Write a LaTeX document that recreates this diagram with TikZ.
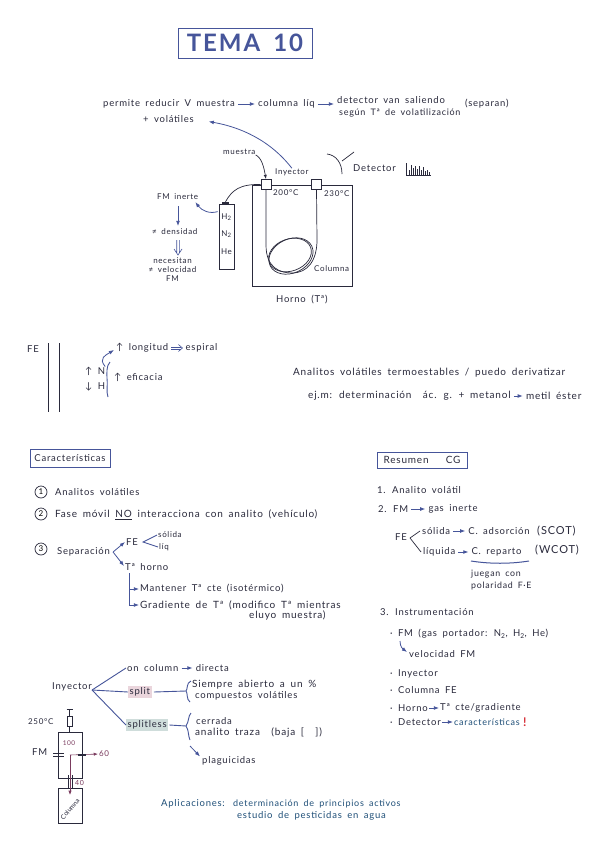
\documentclass[tikz,border=0pt]{standalone}
\usepackage{fontspec}
\setmainfont[LetterSpace=8,WordSpace=1.7]{Lato}
\newfontfamily\plainlato{Lato}
\usepackage{xcolor}
\usetikzlibrary{arrows.meta,positioning,calc,decorations.pathreplacing}
\definecolor{inkblue}{HTML}{46559A}
\definecolor{inkdark}{HTML}{2A2A3C}
\definecolor{inkteal}{HTML}{1F4F78}
\definecolor{inkpink}{HTML}{7A3B5E}
\definecolor{marksplit}{HTML}{EAD5DC}
\definecolor{markless}{HTML}{CFDDDB}
\definecolor{alertred}{HTML}{D8343C}
\tikzset{
  word/.style={anchor=west, inner sep=0pt, text=inkdark, font=\fontsize{9.5}{10}\selectfont},
  big/.style={font=\fontsize{10}{11}\selectfont},
  small/.style={font=\fontsize{8}{9}\selectfont},
  labelbox/.style={draw=inkblue, line width=1pt, inner sep=0pt, text=inkdark, minimum height=16pt, font=\fontsize{9.5}{10}\selectfont},
  pen/.style={inkdark, line width=0.7pt},
  arr/.style={-{Latex[length=1.8mm]}, inkblue, line width=0.8pt},
  link/.style={arr, shorten <=3pt, shorten >=3pt},
  twin/.style={inkblue, line width=0.6pt},
  fork/.style={inkblue, line width=0.9pt},
}
\begin{document}
\begin{tikzpicture}[x=1pt, y=-1pt, node distance=4pt]
    \useasboundingbox (0,0) rectangle (600,848);
    \fill[white] (0,0) rectangle (600,848);
    % titulo
    \node[draw=inkblue, line width=0.9pt, minimum width=134pt, minimum height=30pt, inner sep=0pt, text=inkblue, font=\fontsize{24}{25}\bfseries\selectfont] (title) at (245,43) {TEMA 10};

    % fila superior
    \node[word] (perm) at (103,104) {permite reducir V muestra};
    \node[word, right=23pt of perm] (collig) {columna líq};
    \node[word, anchor=west] (det1) at (337,100) {detector van saliendo};
    \node[word, anchor=west, font=\fontsize{9}{10}\selectfont] (det2) at (339,113) {según Tª de volatilización};
    \node[word] (sep) at (465,104) {(separan)};
    \node[word] (vol) at (143,119) {+ volátiles};
    \draw[link] (perm) -- (collig);
    \draw[link] (collig) -- (collig -| det1.west);

    % horno
    \node[draw=inkdark, line width=0.8pt, minimum width=100pt, minimum height=101pt, inner sep=0pt] (oven) at (302,235.5) {};
    \node[draw=inkdark, line width=0.7pt, fill=white, minimum size=10pt, inner sep=0pt] (injbox) at (266,184.5) {};
    \node[draw=inkdark, line width=0.7pt, fill=white, minimum size=10pt, inner sep=0pt] (detbox) at (316.5,184) {};
    \node[word, small] (inj) at (275,172) {Inyector};
    \node[word, small] (mues) at (223,152) {muestra};
    \node[word, small] (t200) at (273,193) {200°C};
    \node[word, small] (t230) at (324,194) {230°C};
    \node[word, small] (colu) at (314,269) {Columna};
    \node[word] (horno) at (276,300) {Horno (Tª)};
    \node[word] (dett) at (353,168) {Detector};
    \draw[pen, -{Latex[length=1.5mm]}] (mues.south east) .. controls (262,158) and (264,168) .. (injbox.north);
    \draw[arr, shorten >=15pt] (inj.north) .. controls (270,140) and (240,127) .. (vol.east);
    % columna enrollada
    \draw[pen] (injbox.south) -- (266,245) .. controls (266,268) and (280,273) .. (292,273) .. controls (308,273) and (317,260) .. (317,240) -- (detbox.south);
    \draw[pen, rotate around={20:(290,255)}] (290,255) ellipse (22pt and 16pt);
    \draw[pen, rotate around={25:(291,256)}] (291,256) ellipse (23pt and 17pt);
    % detector y cromatograma
    \coordinate (arcA) at (327,154);
    \coordinate (arcB) at (342,174);
    \coordinate (arcC) at (354,152);
    \draw[pen] (arcA) .. controls (336,155) and (342,163) .. (arcB);
    \draw[pen] (342,161) -- (arcC);
    \coordinate (chrO) at (406,175);
    \draw[pen] (406,163) -- (chrO) -- (431,175);
    \draw[pen, line width=0.5pt] (409,175) -- (409,170) (411,175) -- (411,165) (413,175) -- (413,168) (415,175) -- (415,166) (417,175) -- (417,169) (419,175) -- (419,166) (421,175) -- (421,170) (423,175) -- (423,167) (425,175) -- (425,171) (427,175) -- (427,170) (429,175) -- (429,172);

    % botella de gas
    \node[draw=inkdark, line width=0.8pt, minimum width=15pt, minimum height=65pt, inner sep=0pt] (bottle) at (226.5,236.5) {};
    \node[fill=inkdark, minimum width=7pt, minimum height=3pt, inner sep=0pt] (cap) at (225.5,203.5) {};
    \node[word, small, anchor=center] (hh) at (226.5,217) {H\textsubscript{2}};
    \node[word, small, anchor=center] (nn) at (226.5,234) {N\textsubscript{2}};
    \node[word, small, anchor=center] (he) at (226.5,252) {He};
    \draw[pen] (cap.north) .. controls (232,190) and (240,184) .. (injbox.west);
    \node[word, small] (fmi) at (157,197) {FM inerte};
    \node[word, small] (dens) at (152,232) {≠ densidad};
    \node[word, small, align=center, anchor=north] (nece) at (172.5,257) {necesitan\\≠ velocidad\\FM};
    \draw[arr] ($(bottle.north west)+(-1,8)$) .. controls (210,214) and (202,211) .. ($(fmi.south east)+(-3,2)$);
    \draw[arr] (178,206) -- (178,226);
    \draw[twin] (176.7,240) -- (176.7,253) (179.3,240) -- (179.3,253) (174,249) -- (178,255) -- (182,249);

    % fase estacionaria
    \node[word] (fe) at (27,349) {FE};
    \coordinate (wallA) at (48,343);
    \coordinate (wallB) at (48,412);
    \coordinate (wallC) at (59,343);
    \coordinate (wallD) at (59,412);
    \draw[pen, line width=1pt] (wallA) -- (wallB);
    \draw[pen, line width=1pt] (wallC) -- (wallD);
    \node[word] (upn) at (85,371) {↑ N};
    \node[word] (downh) at (85,387) {↓ H};
    \node[word] (long) at (116,348) {↑ longitud};
    \node[word, right=17pt of long] (espi) {espiral};
    \node[word] (efi) at (114,377) {↑ eficacia};
    \draw[arr] (upn.north east) .. controls (98,358) and (106,355) .. ($(long.west)+(-2,2)$);
    \draw[twin] ($(long.east)+(3,-1.2)$) -- ($(espi.west)+(-4,-1.2)$) ($(long.east)+(3,1.2)$) -- ($(espi.west)+(-4,1.2)$);
    \draw[twin] ($(espi.west)+(-7,-3.5)$) -- ($(espi.west)+(-3,0)$) -- ($(espi.west)+(-7,3.5)$);
    \draw[fork] (110,362) .. controls (106,366) and (107,374) .. (107,378) .. controls (108,384) and (106,392) .. (108,397);
    \node[word, big] (anal) at (293,373) {Analitos volátiles termoestables / puedo derivatizar};
    \node[word, big] (ejm) at (308,396) {ej.m: determinación \ ác. g. + metanol};
    \node[word, big, right=15pt of ejm] (metil) {metil éster};
    \draw[link] (ejm) -- (metil);

    % caracteristicas
    \node[labelbox, minimum width=80pt, minimum height=18pt] (carac) at (70,458) {Características};
    \node[draw=inkdark, circle, minimum size=12pt, inner sep=0pt, line width=0.7pt, font=\fontsize{8}{9}\selectfont] (unoc) at (41,492) {1};
    \node[draw=inkdark, circle, minimum size=12pt, inner sep=0pt, line width=0.7pt, font=\fontsize{8}{9}\selectfont] (dosc) at (41,514) {2};
    \node[draw=inkdark, circle, minimum size=12pt, inner sep=0pt, line width=0.7pt, font=\fontsize{8}{9}\selectfont] (tresc) at (41,549) {3};
    \node[word] (c1) at (55,492) {Analitos volátiles};
    \node[word, big] (c2) at (55,515) {Fase móvil \underline{NO} interacciona con analito (vehículo)};
    \node[word] (c3) at (57,552) {Separación};
    \node[word] (cfe) at (126,542) {FE};
    \node[word, small] (csol) at (158,535) {sólida};
    \node[word, small] (cliq) at (159,547) {líq};
    \node[word] (chor) at (125,567) {Tª horno};
    \draw[arr] (c3.east) ++(3,0) coordinate (sepf) -- ($(cfe.west)+(-1,0)$);
    \draw[arr] (sepf) -- ($(chor.west)+(-1,-1)$);
    \draw[fork] ($(csol.west)+(-1,0)$) -- ($(cfe.east)+(5,0)$) -- ($(cliq.west)+(-1,0)$);
    \node[word] (mant) at (140,589) {Mantener Tª cte (isotérmico)};
    \node[word, big] (grad) at (140,605) {Gradiente de Tª (modifico Tª mientras};
    \node[word, big] (eluy) at (249,615) {eluyo muestra)};
    \coordinate (tronco) at (129,573);
    \draw[fork] (tronco) -- (129,605);
    \draw[arr] (129,589) -- ($(mant.west)+(-1,0)$);
    \draw[arr] (129,605) -- ($(grad.west)+(-1,0)$);

    % inyector
    \node[word] (inye) at (52,687) {Inyector};
    \coordinate (inyf) at (92,690);
    \node[word] (onco) at (127,668) {on column};
    \node[word, right=17pt of onco] (dire) {directa};
    \node[fill=marksplit, word, inner sep=1.5pt] (spli) at (128,692) {split};
    \node[fill=markless, word, inner sep=1.5pt] (sple) at (126,725) {splitless};
    \draw[fork] (inyf) -- ($(onco.west)+(-1,0)$);
    \draw[fork] (inyf) -- (spli.west);
    \draw[fork] (inyf) -- (sple.west);
    \draw[link] (onco) -- (dire);
    \node[word, big] (siem) at (192,685) {Siempre abierto a un \%};
    \node[word] (comp) at (195,696) {compuestos volátiles};
    \node[word] (cerr) at (196,721) {cerrada};
    \node[word, big] (traz) at (195,733) {analito traza \ (baja [\ \ ])};
    \node[word] (plag) at (202,761) {plaguicidas};
    \coordinate (brA) at (186,691);
    \coordinate (brB) at (186,726);
    \draw[fork] (spli.east) ++(2,0) -- (brA);
    \draw[fork] (sple.east) ++(1,0) -- (brB);
    \draw[fork] (191,681) .. controls (186,683) and (188,689) .. (brA) .. controls (188,693) and (186,699) .. (190,702);
    \draw[fork] (191,713) .. controls (188,716) and (189,722) .. (brB) .. controls (189,730) and (188,736) .. (190,740);
    \draw[arr] (190,746) -- ($(plag.north west)+(-2,0)$);

    % esquema split
    \node[word, small] (t250) at (28,722) {250°C};
    \node[draw=inkdark, line width=0.7pt, minimum width=24pt, minimum height=46pt, inner sep=0pt] (camara) at (70,755) {};
    \node[draw=inkdark, line width=0.7pt, minimum width=5pt, minimum height=10pt, inner sep=0pt] (sept) at (69.5,721) {};
    \node[word, small, text=inkpink, anchor=center, font=\fontsize{6.5}{7}\selectfont] (cien) at (69,743) {100};
    \node[word] (fmm) at (32,752) {FM};
    \node[word, small, text=inkpink] (sesen) at (99,754) {60};
    \node[word, small, text=inkpink, font=\fontsize{7}{8}\selectfont] (cuar) at (75,783) {40};
    \node[draw=inkdark, line width=0.7pt, minimum width=24pt, minimum height=35pt, inner sep=0pt] (colbox) at (70,805.5) {};
    \node[word, anchor=center, rotate=50, font=\plainlato\fontsize{6.5}{7}\selectfont] (colt) at (70,809) {Columna};
    \coordinate (tapa) at (69.5,709);
    \coordinate (cruz) at (70,755);
    \draw[pen] (sept.north) -- (tapa) ++(-3,0) -- ++(6,0);
    \draw[pen] (sept.south) -- (camara.north -| sept);
    \draw[pen] (53,753) -- (64,753) (53,756) -- (64,756);
    \draw[-{Latex[length=1.5mm]}, inkpink, line width=0.6pt, shorten >=1pt] (cruz) -- (sesen.west);
    \draw[inkdark, line width=1.6pt] (78,755) -- (86,755);
    \draw[-{Latex[length=1.5mm]}, inkpink, line width=0.6pt] (cruz) -- (70,795);
    \draw[pen] (68,775) -- (68,788) (72,775) -- (72,788);

    % aplicaciones
    \node[word, text=inkteal] (apli) at (161,804) {Aplicaciones:};
    \node[word, text=inkteal, font=\fontsize{9}{10}\selectfont] (apl1) at (233,804) {determinación de principios activos};
    \node[word, text=inkteal] (apl2) at (237,816) {estudio de pesticidas en agua};

    % resumen
    \node[labelbox, minimum width=90pt, font=\fontsize{10}{11}\selectfont] (resu) at (422,460) {Resumen \ \ CG};
    \node[word] (r1) at (377,490) {1. Analito volátil};
    \node[word] (r2) at (378,509) {2. FM};
    \node[word, right=20pt of r2] (gasi) {gas inerte};
    \draw[link] (r2) -- (gasi);
    \node[word] (rfe) at (395,537) {FE};
    \node[word] (rsol) at (422,531) {sólida};
    \node[word, right=18pt of rsol] (rads) {C. adsorción};
    \node[word, font=\fontsize{11}{12}\selectfont] (rsco) at (537,531) {(SCOT)};
    \node[word] (rliq) at (423,552) {líquida};
    \node[word, right=16pt of rliq] (rrep) {C. reparto};
    \node[word, font=\fontsize{11}{12}\selectfont] (rwco) at (535,550) {(WCOT)};
    \draw[pen] ($(rsol.west)+(-2,0)$) -- ($(rfe.east)+(3,1)$) -- ($(rliq.west)+(-2,0)$);
    \draw[link] (rsol) -- (rads);
    \draw[link] (rliq) -- (rrep);
    \coordinate (llaveA) at (471,561);
    \coordinate (llaveB) at (529,561);
    \draw[inkblue, line width=1pt] (llaveA) .. controls (490,564) and (510,564) .. (llaveB);
    \node[word, align=left, font=\fontsize{8.8}{12}\selectfont] (jueg) at (471,580) {juegan con\\polaridad F·E};
    \node[word] (r3) at (380,612) {3. Instrumentación};
    \node[word] (ifm) at (390,634) {· FM (gas portador: N\textsubscript{2}, H\textsubscript{2}, He)};
    \node[word] (velo) at (409,654) {velocidad FM};
    \draw[arr] (400,641) .. controls (400,647) and (403,649) .. ($(velo.west)+(-2,-2)$);
    \node[word] (iiny) at (390,674) {· Inyector};
    \node[word] (icol) at (390,690) {· Columna FE};
    \node[word] (ihor) at (390,708) {· Horno};
    \node[word, right=12pt of ihor] (icte) {Tª cte/gradiente};
    \draw[link, shorten <=1pt, shorten >=1pt] (ihor) -- (icte);
    \node[word] (idet) at (390,722) {· Detector};
    \node[word, right=13pt of idet, text=inkteal, font=\fontsize{9}{10}\selectfont] (icar) {características};
    \draw[link, shorten <=1pt, shorten >=1pt] (idet) -- (icar);
    \node[word, text=alertred, font=\fontsize{12}{12}\bfseries\selectfont, right=3pt of icar] (excl) {!};
  \end{tikzpicture}
\end{document}
